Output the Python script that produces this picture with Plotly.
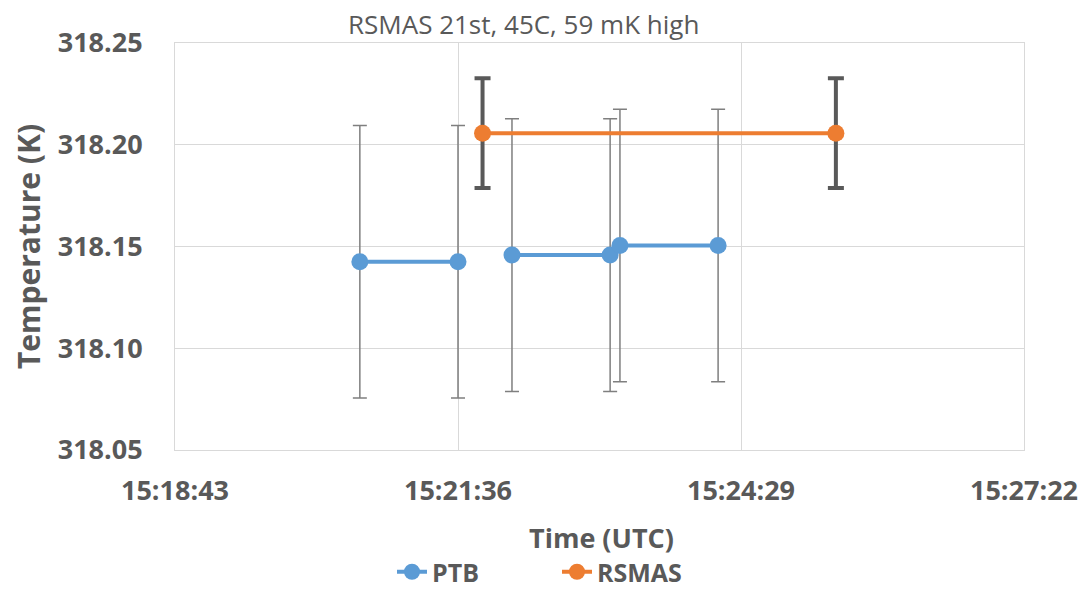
import plotly.graph_objects as go

DAY = "2000-01-01 "

ptb_times = ["15:20:36", "15:21:36", None, "15:22:09", "15:23:09", None, "15:23:15", "15:24:15"]
ptb_temps = [318.1425, 318.1425, None, 318.1458, 318.1458, None, 318.1505, 318.1505]
ptb_err = [0.067, 0.067, None, 0.067, 0.067, None, 0.067, 0.067]

rsmas_times = ["15:21:51", "15:25:27"]
rsmas_temps = [318.2057, 318.2057]
rsmas_err = [0.027, 0.027]

x_ticks = ["15:18:43", "15:21:36", "15:24:29", "15:27:22"]
y_ticks = [318.05, 318.10, 318.15, 318.20, 318.25]

def ts(t):
    return None if t is None else DAY + t

TXT = "#595959"
GRID = "#d9d9d9"
FONT = "Open Sans"

fig = go.Figure()
fig.add_trace(go.Scatter(
    x=[ts(t) for t in ptb_times], y=ptb_temps, name="PTB",
    mode="lines+markers",
    line=dict(color="#5B9BD5", width=4),
    marker=dict(color="#5B9BD5", size=17),
    error_y=dict(type="data", array=ptb_err, color="#7f7f7f", thickness=1.5, width=7),
    connectgaps=False,
))
fig.add_trace(go.Scatter(
    x=[ts(t) for t in rsmas_times], y=rsmas_temps, name="RSMAS",
    mode="lines+markers",
    line=dict(color="#ED7D31", width=4),
    marker=dict(color="#ED7D31", size=17),
    error_y=dict(type="data", array=rsmas_err, color="#595959", thickness=4, width=8),
))

fig.update_layout(
    width=1091, height=589,
    paper_bgcolor="white", plot_bgcolor="white",
    margin=dict(l=167, r=75, t=35, b=147),
    showlegend=True,
    legend=dict(orientation="h", xref="paper", x=(392 - 175)/849, xanchor="left",
                yref="container", y=1 - (572 - 8)/589, yanchor="middle",
                font=dict(family=FONT, size=25, color=TXT, weight="bold"),
                entrywidth=120, entrywidthmode="pixels", tracegroupgap=0),
    font=dict(family=FONT, color=TXT),
    annotations=[
        dict(text="RSMAS 21st, 45C, 59 mK high", xref="paper", yref="paper",
             x=(523 - 175)/849, y=(450 - 24)/407,
             xanchor="center", yanchor="middle", showarrow=False,
             font=dict(family=FONT, size=26, color=TXT)),
        dict(text="Time (UTC)", xref="paper", yref="paper",
             x=(601 - 175)/849, y=(450 - 537)/407,
             xanchor="center", yanchor="middle", showarrow=False,
             font=dict(family=FONT, size=27, color=TXT, weight="bold")),
    ],
)
fig.update_xaxes(
    type="date",
    range=[ts(x_ticks[0]), ts(x_ticks[-1])],
    tickvals=[ts(t) for t in x_ticks], ticktext=x_ticks,
    showgrid=True, gridcolor=GRID, gridwidth=1,
    showline=True, linecolor=GRID, mirror=True,
    zeroline=False, automargin=False,
    ticks="", ticklabelstandoff=17,
    tickfont=dict(family=FONT, size=27, color=TXT, weight="bold"),
)
fig.update_yaxes(
    range=[318.05, 318.25],
    tickvals=y_ticks, tickformat=".2f",
    showgrid=True, gridcolor=GRID, gridwidth=1,
    showline=True, linecolor=GRID, mirror=True,
    zeroline=False,
    ticks="", ticklabelstandoff=26,
    tickfont=dict(family=FONT, size=27, color=TXT, weight="bold"),
    title=dict(text="Temperature (K)", font=dict(family=FONT, size=30, color=TXT, weight="bold"), standoff=8),
)

fig.write_html("out.html")
